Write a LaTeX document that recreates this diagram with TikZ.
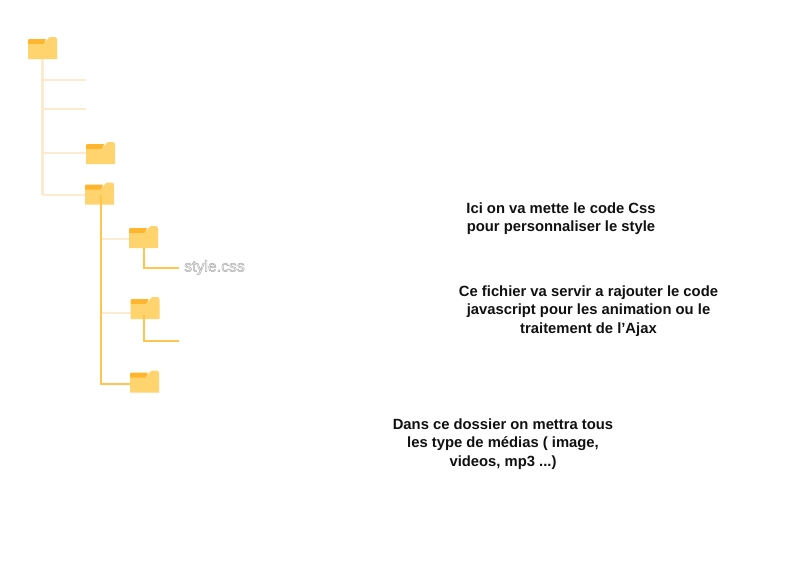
\documentclass[tikz,border=0pt]{standalone}
\usepackage{fontspec}
\setmainfont{Liberation Sans}
\definecolor{folderbody}{HTML}{FFD36E}
\definecolor{foldertab}{HTML}{FFB52E}
\definecolor{palewire}{HTML}{FDEBD0}
\definecolor{strongwire}{HTML}{FFC54D}
\definecolor{inktext}{HTML}{111111}
\newcommand{\folderart}[1]{%
  \begin{scope}[shift={(#1.north west)}]
    \fill[foldertab] (0,7.5) -- (0,3.5) .. controls (0,2.5) and (0.8,2) .. (2,2) -- (18,2) -- (16,7.5) -- cycle;
    \fill[folderbody] (0,22) -- (0,7) -- (15.5,7) -- (19.5,2.2) .. controls (20.5,0.8) and (21.5,0) .. (23,0) -- (26.5,0) .. controls (28,0) and (29,1) .. (29,2.5) -- (29,22) -- cycle;
  \end{scope}}
\tikzset{
  x=1pt,y=-1pt,
  folderbox/.style={inner sep=0pt,outer sep=0pt,minimum width=29pt,minimum height=22pt},
  palewireline/.style={draw=palewire,line width=2pt},
  paletrunk/.style={draw=palewire,line width=3pt},
  strongwireline/.style={draw=strongwire,line width=2pt},
  notetext/.style={align=center,font=\fontsize{14.8}{18.3}\selectfont\bfseries,text=inktext,inner sep=0pt},
  filetext/.style={font=\fontsize{15.8}{17}\selectfont,text=white,inner sep=0pt}
}
\begin{document}
\begin{tikzpicture}
\useasboundingbox[fill=white] (0,0) rectangle (800,566);
% free ends
\coordinate (j1) at (42.5,195);
\coordinate (e1) at (42.5,80.3);
\coordinate (e1b) at (86,80.3);
\coordinate (e2) at (42.5,109.3);
\coordinate (e2b) at (86,109.3);
\coordinate (e3) at (42.5,153.3);
\coordinate (j2) at (100.5,384);
\coordinate (j2top) at (100.5,195);
\coordinate (t4) at (100.5,239.3);
\coordinate (t5) at (100.5,312.5);
\coordinate (s1) at (144,268.3);
\coordinate (e4) at (178.5,268.3);
\coordinate (s2top) at (144,315);
\coordinate (s2) at (144,341);
\coordinate (e5) at (178.5,341);
\node[folderbox] (f1) at (42.5,48) {};
\node[folderbox] (f2) at (100.5,153) {};
\node[folderbox] (f3) at (99.5,193.5) {};
\node[folderbox] (f4) at (143.5,237) {};
\node[folderbox] (f5) at (145,308) {};
\node[folderbox] (f6) at (144.5,381.5) {};
\draw[paletrunk] (f1.south) -- (j1);
\draw[palewireline] (j1) -- (85,195);
\draw[palewireline] (e1) -- (e1b);
\draw[palewireline] (e2) -- (e2b);
\draw[palewireline] (e3) -- (e3 -| f2.west);
\draw[palewireline] (t4) -- (f4.west |- t4);
\draw[palewireline] (t5) -- (f5.west |- t5);
\folderart{f1}\folderart{f2}\folderart{f3}\folderart{f4}\folderart{f5}\folderart{f6}
\draw[strongwireline] (j2top) -- (j2) -- (f6.west |- j2);
\node[filetext,anchor=west] (css) at (184,267.5) {\special{pdf:code 2 Tr 0.5 w 0.68 G}style.css\special{pdf:code 0 Tr}};
\draw[strongwireline] (f4.south -| s1) -- (s1) -- (e4);
\draw[strongwireline] (s2top) -- (s2) -- (e5);
\node[notetext] (n1) at (561,218.5) {Ici on va mette le code Css\\pour personnaliser le style};
\node[notetext] (n2) at (588.5,311) {Ce fichier va servir a rajouter le code\\javascript pour les animation ou le\\traitement de l'Ajax};
\node[notetext] (n3) at (503,444) {Dans ce dossier on mettra tous\\les type de médias ( image,\\videos, mp3 ...)};
\end{tikzpicture}
\end{document}
